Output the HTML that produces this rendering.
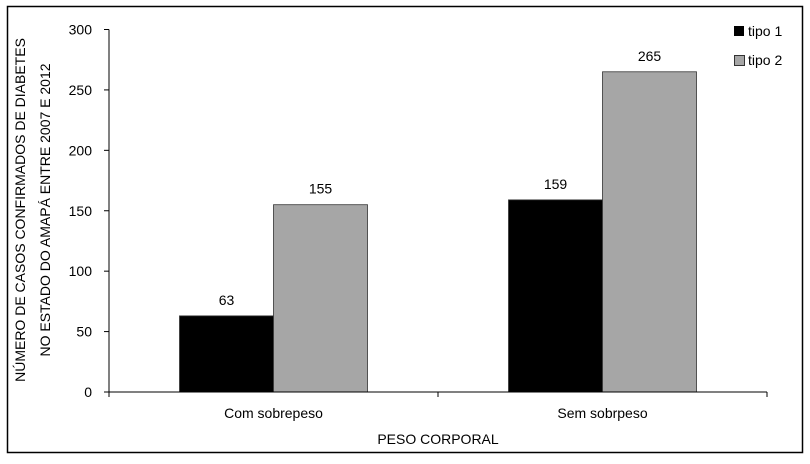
<!DOCTYPE html>
<html><head><meta charset="utf-8"><style>
body{margin:0;background:#fff;}
svg text{font-family:"Liberation Sans",sans-serif;font-size:14px;fill:#000;}
</style></head><body>
<svg id="chart" width="810" height="459" xmlns="http://www.w3.org/2000/svg">
<rect x="7.5" y="6.5" width="795" height="446" fill="#fff" stroke="#000" stroke-width="1.5"/>
<g id="yaxis"></g>
<g id="bars"></g>
<g id="xaxis"></g>
<text transform="translate(25,210) rotate(-90)" text-anchor="middle">NÚMERO DE CASOS CONFIRMADOS DE DIABETES</text>
<text transform="translate(50,210) rotate(-90)" text-anchor="middle">NO ESTADO DO AMAPÁ ENTRE 2007 E 2012</text>
<text x="438" y="444" text-anchor="middle">PESO CORPORAL</text>
<g>
<g><rect x="734" y="26" width="10" height="10" fill="#000"/><text x="748" y="36">tipo 1</text></g>
<g><rect x="734.5" y="55.5" width="10" height="10" fill="#a6a6a6" stroke="#333"/><text x="748" y="65">tipo 2</text></g>
</g>
</svg>
<script>
const categories=["Com sobrepeso","Sem sobrpeso"];
const tipo1=[63,159];
const tipo2=[155,265];
const yTicks=[0,50,100,150,200,250,300];
const NS="http://www.w3.org/2000/svg";
const x0=109,x1=767,y0=392,yTop=29.5,yMax=300;
const y=v=>y0-(v/yMax)*(y0-yTop);
const catW=(x1-x0)/categories.length;
function mk(tag,attrs,parent){const e=document.createElementNS(NS,tag);for(const k in attrs)e.setAttribute(k,attrs[k]);parent.appendChild(e);return e;}
const ya=document.getElementById('yaxis');
mk('line',{x1:x0,x2:x0,y1:yTop,y2:y0,stroke:'#000'},ya);
yTicks.forEach(t=>{
 const l=mk('line',{x1:x0-5,x2:x0,y1:y(t),y2:y(t),stroke:'#000'},ya);
 
 
 const tx=mk('text',{x:92,y:y(t)+5,'text-anchor':'end'},ya);tx.textContent=t;
 
 
});
const bg=document.getElementById('bars');
const bw=94;
const series=[{v:tipo1,fill:'#000',n:'tipo1'},{v:tipo2,fill:'#a6a6a6',n:'tipo2'}];
categories.forEach((c,i)=>{
 const cx=x0+catW*(i+0.5);
 series.forEach((s,j)=>{
  const bx=cx-bw+j*bw;
  const r=mk('rect',{x:bx,y:y(s.v[i]),width:bw,height:y0-y(s.v[i]),fill:s.fill,stroke:'#333','stroke-width':0.8},bg);
  
  
  const t=mk('text',{x:bx+bw/2,y:y(s.v[i])-11,'text-anchor':'middle'},bg);t.textContent=s.v[i];
  
  
 });
});
const xa=document.getElementById('xaxis');
mk('line',{x1:x0,x2:x1,y1:y0,y2:y0,stroke:'#000'},xa);
for(let i=0;i<=categories.length;i++){mk('line',{x1:x0+catW*i,x2:x0+catW*i,y1:y0,y2:y0+5,stroke:'#000'},xa);}
categories.forEach((c,i)=>{
 const t=mk('text',{x:x0+catW*(i+0.5),y:418,'text-anchor':'middle'},xa);t.textContent=c;
 
 
});
</script>
</body></html>
